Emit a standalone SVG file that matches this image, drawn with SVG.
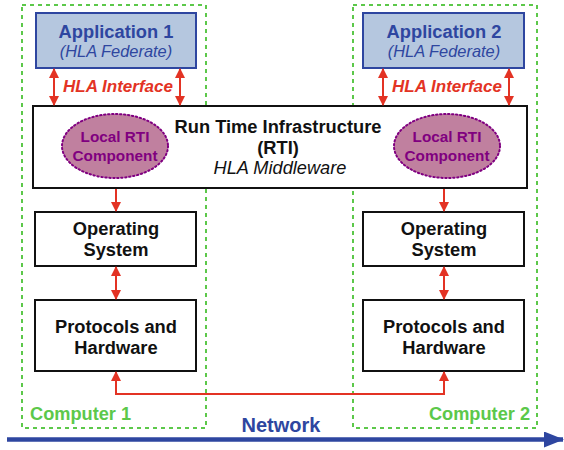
<svg xmlns="http://www.w3.org/2000/svg" width="564" height="450" viewBox="0 0 564 450">
  <defs>
    <marker id="ah" viewBox="0 0 10 10" refX="9" refY="5" markerWidth="10" markerHeight="10" markerUnits="userSpaceOnUse" orient="auto-start-reverse">
      <path d="M0,0 L10,5 L0,10 z" fill="#e33324"/>
    </marker>
    <marker id="netah" viewBox="0 0 20 16" refX="19" refY="8" markerWidth="20" markerHeight="16" markerUnits="userSpaceOnUse" orient="auto">
      <path d="M0,0 L20,8 L0,16 z" fill="#2e46a0"/>
    </marker>
    <style>
      text { font-family: "Liberation Sans", Arial, sans-serif; text-anchor: middle; }
      .comp { fill: none; stroke: #5cc84a; stroke-width: 2; stroke-dasharray: 4 4; }
      .app { fill: #b5c7df; stroke: #2e46a0; stroke-width: 2; }
      .box { fill: #ffffff; stroke: #111111; stroke-width: 2; }
      .lrti { fill: #c0809f; stroke: #800080; stroke-width: 2; stroke-dasharray: 1.5 2.5; stroke-linecap: round; }
      .t-app { fill: #2e46a0; font-weight: bold; font-size: 18.3px; }
      .t-fed { fill: #2e46a0; font-style: italic; font-size: 16.4px; }
      .t-box { fill: #111111; font-weight: bold; font-size: 18.3px; }
      .t-mid { fill: #111111; font-style: italic; font-size: 18.2px; }
      .t-lrti { fill: #800080; font-weight: bold; font-size: 15.3px; }
      .t-if { fill: #e33324; font-weight: bold; font-style: italic; font-size: 17px; }
      .t-comp { fill: #5cc84a; font-weight: bold; font-size: 18.2px; }
      .t-net { fill: #2e46a0; font-weight: bold; font-size: 20px; }
      .link { fill: none; stroke: #e33324; stroke-width: 2; }
    </style>
  </defs>

  <!-- computer enclosures -->
  <g id="computer1">
    <rect class="comp" x="22" y="5" width="184" height="423"/>
    <text class="t-comp" x="30" y="420" style="text-anchor:start">Computer 1</text>
  </g>
  <g id="computer2">
    <rect class="comp" x="353" y="5" width="184" height="423"/>
    <text class="t-comp" x="530" y="420" style="text-anchor:end">Computer 2</text>
  </g>

  <!-- federates -->
  <g id="app1">
    <rect class="app" x="36" y="13" width="160" height="55"/>
    <text class="t-app" x="116" y="38">Application 1</text>
    <text class="t-fed" x="116" y="57">(HLA Federate)</text>
  </g>
  <g id="app2">
    <rect class="app" x="363" y="13" width="161" height="55"/>
    <text class="t-app" x="444" y="38">Application 2</text>
    <text class="t-fed" x="444" y="57">(HLA Federate)</text>
  </g>

  <!-- RTI middleware -->
  <g id="rti">
    <rect class="box" x="33" y="106" width="494" height="82"/>
    <text class="t-box" x="278" y="133">Run Time Infrastructure</text>
    <text class="t-box" x="278" y="154">(RTI)</text>
    <text class="t-mid" x="280" y="174">HLA Middleware</text>
  </g>
  <g id="lrti1">
    <ellipse class="lrti" cx="115" cy="146" rx="53" ry="32"/>
    <text class="t-lrti" x="115" y="142">Local RTI</text>
    <text class="t-lrti" x="115" y="161">Component</text>
  </g>
  <g id="lrti2">
    <ellipse class="lrti" cx="447" cy="146" rx="53" ry="32"/>
    <text class="t-lrti" x="447" y="142">Local RTI</text>
    <text class="t-lrti" x="447" y="161">Component</text>
  </g>

  <!-- operating systems -->
  <g id="os1">
    <rect class="box" x="35" y="212" width="161" height="54"/>
    <text class="t-box" x="116" y="235">Operating</text>
    <text class="t-box" x="116" y="256">System</text>
  </g>
  <g id="os2">
    <rect class="box" x="363" y="212" width="161" height="54"/>
    <text class="t-box" x="444" y="235">Operating</text>
    <text class="t-box" x="444" y="256">System</text>
  </g>

  <!-- protocol stacks -->
  <g id="hw1">
    <rect class="box" x="35" y="300" width="161" height="71"/>
    <text class="t-box" x="116" y="333">Protocols and</text>
    <text class="t-box" x="116" y="354">Hardware</text>
  </g>
  <g id="hw2">
    <rect class="box" x="363" y="300" width="161" height="71"/>
    <text class="t-box" x="444" y="333">Protocols and</text>
    <text class="t-box" x="444" y="354">Hardware</text>
  </g>

  <!-- connectors -->
  <g id="connectors">
    <line class="link" x1="54" y1="69" x2="54" y2="105" marker-start="url(#ah)" marker-end="url(#ah)"/>
    <line class="link" x1="180" y1="69" x2="180" y2="105" marker-start="url(#ah)" marker-end="url(#ah)"/>
    <line class="link" x1="383" y1="69" x2="383" y2="105" marker-start="url(#ah)" marker-end="url(#ah)"/>
    <line class="link" x1="509" y1="69" x2="509" y2="105" marker-start="url(#ah)" marker-end="url(#ah)"/>
    <text class="t-if" x="118" y="92">HLA Interface</text>
    <text class="t-if" x="447" y="92">HLA Interface</text>

    <line class="link" x1="116" y1="189" x2="116" y2="211" marker-end="url(#ah)"/>
    <line class="link" x1="444" y1="189" x2="444" y2="211" marker-end="url(#ah)"/>

    <line class="link" x1="116" y1="267" x2="116" y2="299" marker-start="url(#ah)" marker-end="url(#ah)"/>
    <line class="link" x1="444" y1="267" x2="444" y2="299" marker-start="url(#ah)" marker-end="url(#ah)"/>

    <polyline class="link" points="116,372 116,394 444,394 444,372" marker-start="url(#ah)" marker-end="url(#ah)"/>

    <line x1="7" y1="439.5" x2="563" y2="439.5" stroke="#2e46a0" stroke-width="4.5" marker-end="url(#netah)"/>
    <text class="t-net" x="281" y="432">Network</text>
  </g>
</svg>
